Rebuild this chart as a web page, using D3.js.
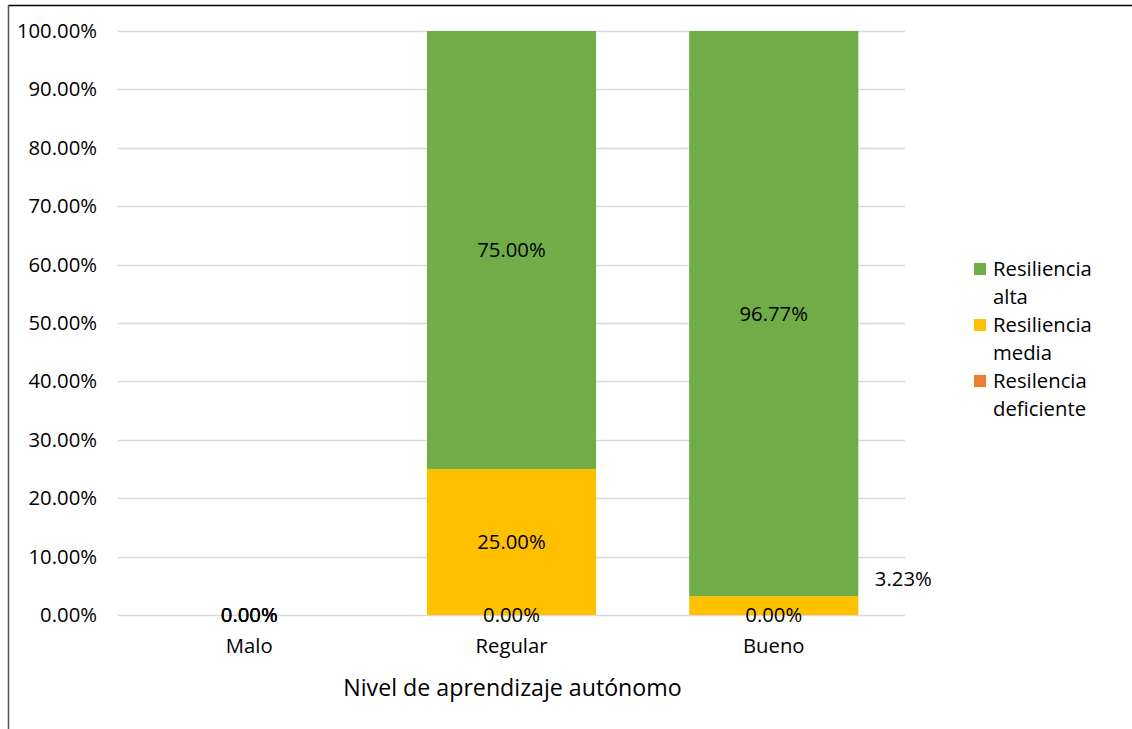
<!DOCTYPE html>
<html>
<head>
<meta charset="utf-8">
<script src="https://cdn.jsdelivr.net/npm/d3@7"></script>
<style>
  html, body { margin: 0; padding: 0; background: #fff; }
  svg { display: block; font-family: "Open Sans", Carlito, Calibri, sans-serif; }
</style>
</head>
<body>
<svg id="chart" width="1132" height="729"></svg>
<script>
// Nivel de aprendizaje autónomo vs. nivel de resiliencia (porcentajes)
const categories = ["Malo", "Regular", "Bueno"];
const seriesNames = ["Resilencia deficiente", "Resiliencia media", "Resiliencia alta"];
const deficiente = [0, 0, 0];
const media = [0, 25.00, 3.23];
const alta = [0, 75.00, 96.77];
const yTicks = [0, 10, 20, 30, 40, 50, 60, 70, 80, 90, 100];
const legendLabels = [["Resiliencia", "alta"], ["Resiliencia", "media"], ["Resilencia", "deficiente"]];
const colors = {"Resilencia deficiente": "#ED7D31", "Resiliencia media": "#FFC000", "Resiliencia alta": "#70AD47"};
const xTitle = "Nivel de aprendizaje autónomo";

const FONT = "'Open Sans', Carlito, Calibri, sans-serif";
const FS = 20.3;

const svg = d3.select("#chart");
const plot = {left: 118, right: 905, top: 31, bottom: 615};

// frame lines
svg.append("line").attr("x1", 8.5).attr("x2", 1132).attr("y1", 5.5).attr("y2", 5.5)
  .attr("stroke", "#000").attr("stroke-width", 1.5);
svg.append("line").attr("x1", 8.5).attr("x2", 8.5).attr("y1", 5).attr("y2", 729)
  .attr("stroke", "#555").attr("stroke-width", 1.5);

const x = d3.scaleBand().domain(categories).range([plot.left, plot.right]).paddingInner(0.355).paddingOuter(0.178);
const y = d3.scaleLinear().domain([0, 100]).range([plot.bottom, plot.top]);

// gridlines
svg.append("g").selectAll("line").data(yTicks).join("line")
  .attr("x1", plot.left).attr("x2", plot.right)
  .attr("y1", d => Math.round(y(d)) + 0.5).attr("y2", d => Math.round(y(d)) + 0.5)
  .attr("stroke", "#d9d9d9").attr("stroke-width", 1.3);

// y-axis tick labels
const yAxis = d3.axisLeft(y).tickValues(yTicks).tickSize(0).tickPadding(0)
  .tickFormat(d => d.toFixed(2) + "%");
const gy = svg.append("g").attr("transform", `translate(97,0)`).call(yAxis);
gy.select(".domain").remove();
gy.selectAll("text").attr("font-size", FS).attr("fill", "#000").attr("font-family", FONT);

// stacked data
const rows = categories.map((c, i) => ({
  cat: c,
  "Resilencia deficiente": deficiente[i],
  "Resiliencia media": media[i],
  "Resiliencia alta": alta[i]
}));
const stack = d3.stack().keys(seriesNames)(rows);

const layers = svg.append("g").selectAll("g").data(stack).join("g")
  .attr("fill", d => colors[d.key]);
layers.selectAll("rect").data(d => d).join("rect")
  .attr("x", d => x(d.data.cat))
  .attr("width", x.bandwidth())
  .attr("y", d => y(d[1]))
  .attr("height", d => y(d[0]) - y(d[1]));

// value labels
const labels = [];
stack.forEach(s => {
  s.forEach(d => {
    const v = d[1] - d[0];
    labels.push({key: s.key, cat: d.data.cat, v, mid: (d[0] + d[1]) / 2});
  });
});
const isMoved = d => d.key === "Resiliencia media" && d.cat === "Bueno";
svg.append("g").selectAll("text").data(labels).join("text")
  .attr("x", d => isMoved(d) ? x(d.cat) + x.bandwidth() + 45 : x(d.cat) + x.bandwidth() / 2)
  .attr("y", d => isMoved(d) ? y(6.2) : y(d.mid))
  .attr("dy", "0.35em")
  .attr("text-anchor", "middle")
  .attr("font-size", FS)
  .attr("fill", "#000")
  .text(d => d.v.toFixed(2) + "%");

// x-axis category labels
const xAxis = d3.axisBottom(x).tickSize(0).tickPadding(0);
const gx = svg.append("g").attr("transform", `translate(0,646)`).call(xAxis);
gx.select(".domain").remove();
gx.selectAll("text").attr("font-size", FS).attr("fill", "#000").attr("dy", "0.35em")
  .attr("font-family", FONT);

// axis title
svg.append("text").attr("x", (plot.left + plot.right) / 2 + 1).attr("y", 688)
  .attr("dy", "0.35em").attr("text-anchor", "middle").attr("font-size", 23.2).attr("fill", "#000")
  .text(xTitle);

// legend
const legendKeys = ["Resiliencia alta", "Resiliencia media", "Resilencia deficiente"];
const lg = svg.append("g").attr("transform", "translate(974,263)");
legendKeys.forEach((k, i) => {
  const g = lg.append("g").attr("transform", `translate(0,${i * 56})`);
  g.append("rect").attr("width", 12).attr("height", 12).attr("fill", colors[k]);
  legendLabels[i].forEach((t, j) => {
    g.append("text").attr("x", 19).attr("y", 6 + j * 28).attr("dy", "0.35em")
      .attr("font-size", FS).attr("fill", "#000").text(t);
  });
});
</script>
</body>
</html>
